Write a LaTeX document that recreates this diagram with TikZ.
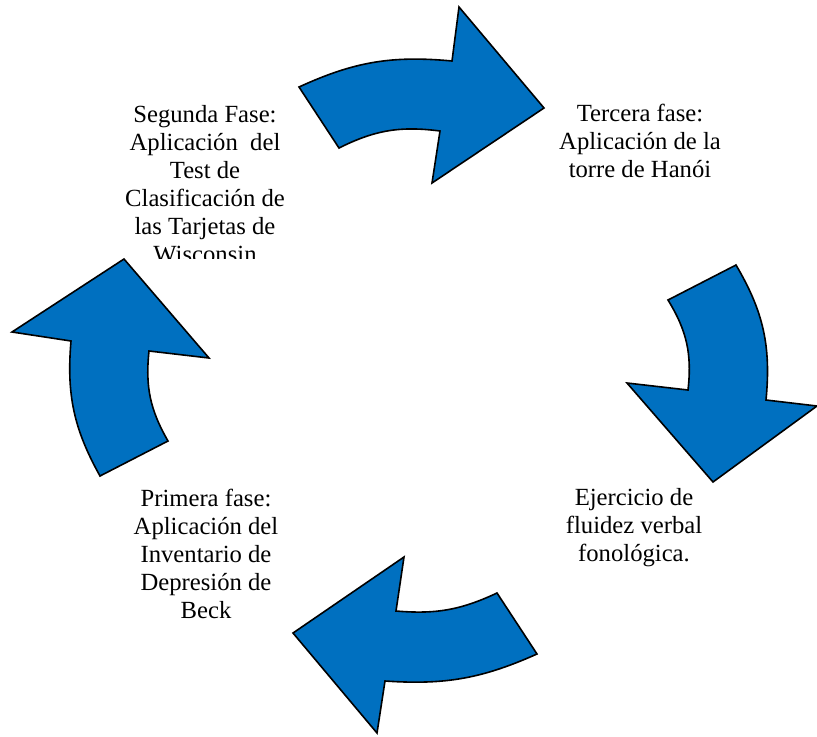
\documentclass[tikz,border=0pt]{standalone}
\usepackage{fontspec}
\setmainfont{Liberation Serif}
\begin{document}
\begin{tikzpicture}[x=0.75pt,y=-0.75pt,
  blockarrow/.style={fill={rgb,255:red,0;green,112;blue,192}, draw=black, line width=1.2pt, line join=miter},
  phase/.style={align=center, font=\fontsize{18.5}{21}\selectfont, inner sep=0pt}]
\useasboundingbox (0,0) rectangle (817,736);
% top arrow
\draw[blockarrow] (299,87) to[bend left=15] (452,61) -- (459,7) -- (544,108) -- (432,183) -- (440,131) to[bend right=17] (339,148) -- cycle;
% right arrow
\draw[blockarrow] (736,265) to[bend left=18] (766,400) -- (817,406) -- (713,482) -- (627,383) -- (688,390) to[bend right=19] (668,300) -- cycle;
% bottom arrow
\draw[blockarrow] (537,654) to[bend left=14] (385,681) -- (377,733) -- (293,633) -- (404,557) -- (396,611) to[bend right=15] (497,593) -- cycle;
% left arrow
\draw[blockarrow] (71,341) to[bend right=17] (100,476) -- (168,441) to[bend left=18] (149,351) -- (209,358) -- (124,259) -- (12,332) -- cycle;
% labels
\begin{scope}
\clip (100,80) rectangle (310,258.5);
\node[phase] (segunda) at (205,184) {Segunda Fase:\\Aplicación~ del\\Test de\\Clasificación de\\las Tarjetas de\\Wisconsin};
\end{scope}
\node[phase] (tercera) at (640,141) {Tercera fase:\\Aplicación de la\\torre de Hanói};
\node[phase] (ejercicio) at (634,528) {Ejercicio de\\fluidez verbal\\fonológica.};
\node[phase] (primera) at (206,554) {Primera fase:\\Aplicación del\\Inventario de\\Depresión de\\Beck};
\end{tikzpicture}
\end{document}
